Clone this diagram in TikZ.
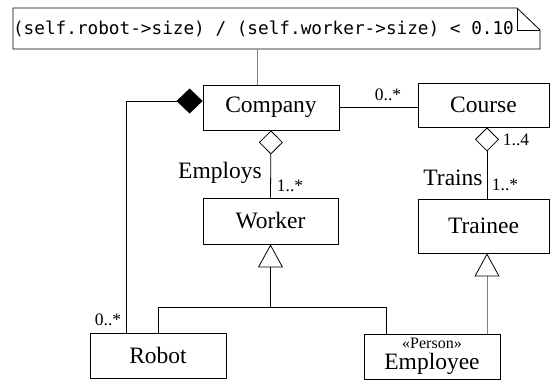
\documentclass[tikz,border=0pt]{standalone}
\usepackage{fontspec}
\setmainfont{Liberation Serif}
\setmonofont{DejaVu Sans Mono}
\usepackage{tikz}
\usetikzlibrary{arrows.meta}
\newcommand{\classfont}{\fontsize{23.5}{24}\selectfont}
\newcommand{\multfont}{\fontsize{17.5}{18}\selectfont}
\newcommand{\notefont}{\ttfamily\fontsize{17.7}{18}\selectfont}

\begin{document}
\begin{tikzpicture}[x=1pt,y=-1pt,line width=0.8pt,
		umlclass/.style={draw, inner sep=0pt, minimum width=136pt, minimum height=45pt, font=\classfont},
		mult/.style={inner sep=0pt, font=\multfont},
		role/.style={inner sep=0pt, font=\classfont},
		aggr/.style={-{Diamond[open,length=24pt,width=24pt]}},
		compo/.style={-{Diamond[length=26pt,width=25pt]}},
		inherit/.style={-{Triangle[open,length=23pt,width=25pt,color=black]}}]
			\useasboundingbox (0,0) rectangle (552,381);
			% constraint note
			\draw (13,8) -- (517,8) -- (540,30) -- (540,49) -- (13,49) -- cycle;
			\draw (517,8) -- (517,30) -- (540,30);
			\node[inner sep=0pt, font=\notefont] (note) at (263.5,29) {(self.robot->size) / (self.worker->size) < 0.10};
			\coordinate (notebot) at (257,49);
			
			% classes
			\node[umlclass] (company) at (271,107.5) {Company};
			\node[umlclass, minimum width=131pt, minimum height=44pt] (course) at (483.5,105) {Course};
			\node[umlclass, minimum width=135pt, minimum height=46pt] (worker) at (270.5,221) {Worker};
			\node[umlclass, minimum width=131pt, minimum height=54pt] (trainee) at (483.5,226) {Trainee};
			\node[umlclass] (robot) at (158,355.5) {Robot};
			\node[umlclass, align=center] (employee) at (432,356.5) {{\fontsize{16}{17}\selectfont «Person»}\\[-3pt]Employee};
			
			% associations
			\draw[gray] (notebot) -- (notebot |- company.north);
			\draw (company.east |- 0,107) -- (course.west |- 0,107);
			\draw[aggr] (worker.north) -- (company.south);
			\draw[aggr] ([xshift=3.5pt]trainee.north) -- ([xshift=3.5pt]course.south);
			\draw[compo] ([xshift=-32pt]robot.north) |- ([yshift=6.5pt]company.west);
			
			% generalization
			\coordinate (join) at ([yshift=-63pt]worker.south);
			\draw (robot.north) |- (join) -| ([xshift=-46pt]employee.north);
			\draw[inherit] (join) -- (worker.south);
			\draw[inherit, gray] ([xshift=55pt]employee.north) -- ([xshift=3.5pt]trainee.south);
			
			% labels
			\node[mult] (m1) at (388,95) {0..*};
			\node[mult] (m2) at (516,140) {1..4};
			\node[role] (trains) at (453,178) {Trains};
			\node[mult] (m3) at (505,185) {1..*};
			\node[role] (employs) at (220,173) {Employs};
			\node[mult] (m4) at (290,186) {1..*};
			\node[mult] (m5) at (108,320) {0..*};
		\end{tikzpicture}
\end{document}
